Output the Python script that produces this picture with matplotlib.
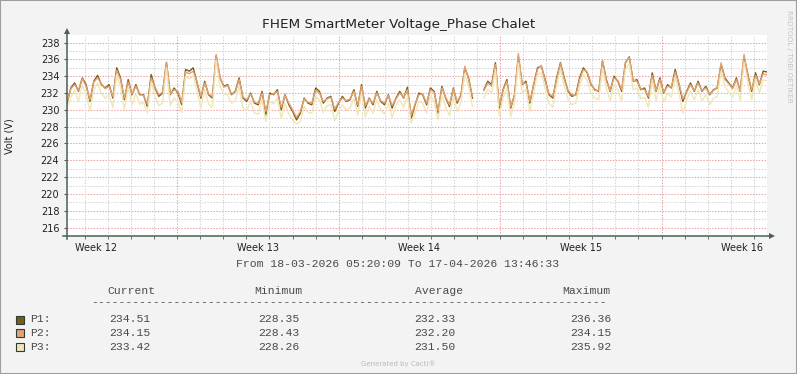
import numpy as np
import matplotlib
matplotlib.use('Agg')
import matplotlib.pyplot as plt
import matplotlib.dates as mdates
from matplotlib.lines import Line2D
from matplotlib.patches import Rectangle
from datetime import datetime, timedelta

W, H = 797, 374
START = datetime(2026, 3, 18, 5, 20, 9)
END   = datetime(2026, 4, 17, 13, 46, 33)

# ── Data (~4 h steps, NaN = gap) ──────────────────────────────────────
p1 = [230.8, 232.6, 233.2, 232.2, 233.8, 233.0, 231.0, 233.4, 234.1, 233.0, 232.6, 233.0, 231.4, 235.0, 233.8, 231.2,
      233.6, 231.8, 233.0, 231.8, 231.8, 230.4, 234.2, 232.6, 231.6, 232.0, 235.6, 231.8, 232.6, 232.0, 230.6, 234.8,
      234.6, 235.0, 233.2, 231.4, 233.4, 231.8,
      231.4, 236.4, 233.8, 232.8, 233.0, 231.8, 232.2, 233.8, 231.4, 231.0, 232.0, 230.8, 230.6, 232.2, 229.4, 232.0,
      231.8, 232.4, 230.0, 231.8, 230.6, 229.8, 228.8, 229.6, 231.4, 230.8, 230.6, 232.6, 232.2, 230.8, 231.4, 231.6,
      229.8, 230.8, 231.6, 231.0,
      231.2, 232.4, 230.4, 233.0, 230.2, 231.4, 230.6, 232.2, 231.0, 230.6, 231.8, 230.2, 231.4, 232.2, 231.4, 232.7,
      229.0, 230.6, 232.0, 231.8, 230.6, 232.6, 232.2, 229.6, 232.8, 231.4, 230.4, 232.6, 230.8, 231.8, 235.0, 233.8,
      231.4, np.nan, np.nan, 232.4, 233.4,
      233.0, 235.6, 230.2, 232.4, 233.6, 230.2, 231.8, 236.3, 233.0, 233.4, 230.8, 233.0, 235.0, 235.2, 233.6, 231.8,
      231.4, 233.8, 235.6, 233.8, 232.2, 231.6, 231.8, 233.8, 235.0, 234.4, 233.0, 232.4, 232.2, 235.8, 233.6, 232.2,
      234.0, 233.4, 232.2, 235.6,
      236.3, 233.4, 233.6, 232.4, 232.6, 231.4, 234.4, 232.2, 233.8, 232.0, 233.0, 232.6, 234.8, 233.0, 231.0, 232.2,
      233.2, 232.2, 233.4, 232.2, 232.8, 231.8, 232.4, 232.6, 235.4, 233.8, 233.2, 232.6, 233.8, 232.2, 236.3, 234.2,
      232.2, 234.4, 233.0, 234.6, 234.51]

p2 = [230.9, 232.5, 233.0, 232.3, 233.7, 232.8, 231.2, 233.3, 233.8, 233.1, 232.5, 232.8, 231.6, 234.7, 233.6, 231.4,
      233.3, 231.9, 232.8, 231.9, 231.7, 230.7, 233.8, 232.7, 231.8, 232.1, 235.7, 231.9, 232.4, 232.2, 230.9, 234.5,
      234.3, 234.6, 233.3, 231.6, 233.2, 231.9,
      231.6, 236.6, 233.9, 232.7, 232.9, 231.9, 232.1, 233.6, 231.5, 231.2, 231.9, 230.9, 230.8, 232.0, 229.8, 231.8,
      231.9, 232.2, 230.3, 231.7, 230.8, 230.0, 229.1, 229.8, 231.3, 230.9, 230.8, 232.3, 232.0, 231.0, 231.3, 231.5,
      230.1, 230.9, 231.4, 231.1,
      231.3, 232.2, 230.6, 232.8, 230.5, 231.3, 230.8, 232.0, 231.1, 230.8, 231.7, 230.5, 231.3, 232.0, 231.5, 232.4,
      229.4, 230.7, 231.8, 231.9, 230.8, 232.4, 232.1, 229.9, 232.6, 231.5, 230.6, 232.5, 231.0, 231.7, 235.2, 233.6,
      231.6, np.nan, np.nan, 232.3, 233.2,
      232.8, 235.4, 230.5, 232.3, 233.4, 230.4, 231.7, 236.7, 233.1, 233.2, 231.0, 232.9, 234.8, 235.3, 233.4, 231.9,
      231.6, 233.6, 235.5, 233.6, 232.3, 231.8, 231.7, 233.6, 234.8, 234.5, 233.1, 232.3, 232.3, 235.9, 233.4, 232.3,
      233.8, 233.5, 232.4, 235.7,
      236.2, 233.5, 233.4, 232.5, 232.4, 231.6, 234.1, 232.3, 233.6, 232.1, 232.8, 232.7, 234.5, 233.1, 231.3, 232.1,
      233.0, 232.3, 233.2, 232.3, 232.6, 231.9, 232.3, 232.7, 235.6, 233.6, 233.1, 232.5, 233.6, 232.3, 236.6, 234.0,
      232.4, 234.1, 233.1, 234.3, 234.15]

p3 = [230.2, 231.5, 232.4, 231.0, 232.9, 231.8, 229.9, 232.3, 233.2, 231.9, 231.4, 231.8, 230.3, 234.2, 232.7, 230.0,
      232.7, 230.6, 231.9, 230.7, 230.9, 229.6, 233.3, 231.6, 230.5, 230.8, 235.0, 230.5, 231.4, 230.9, 229.7, 234.0,
      233.7, 234.1, 232.2, 230.2, 232.4, 230.7,
      230.3, 235.9, 232.8, 231.9, 231.8, 230.8, 231.1, 232.8, 230.2, 229.9, 231.0, 229.6, 229.5, 231.2, 228.6, 231.0,
      230.7, 231.4, 229.0, 230.8, 229.5, 228.8, 228.3, 228.6, 230.4, 229.7, 229.6, 231.6, 231.2, 229.7, 230.5, 230.6,
      228.7, 229.8, 230.6, 230.0,
      230.2, 231.4, 229.4, 232.0, 229.2, 230.4, 229.6, 231.2, 230.0, 229.5, 230.8, 229.1, 230.5, 231.2, 230.3, 231.7,
      228.4, 229.6, 231.0, 230.8, 229.6, 231.6, 231.1, 228.8, 231.8, 230.4, 229.3, 231.6, 229.8, 230.9, 234.3, 232.8,
      230.4, np.nan, np.nan, 231.4, 232.4,
      232.0, 234.8, 229.3, 231.4, 232.6, 229.2, 230.8, 235.6, 232.0, 232.4, 229.8, 232.0, 234.2, 234.4, 232.6, 230.8,
      230.3, 232.8, 234.8, 232.8, 231.2, 230.6, 230.8, 232.8, 234.2, 233.5, 232.0, 231.4, 231.2, 235.0, 232.6, 231.1,
      233.0, 232.4, 231.0, 234.8,
      235.5, 232.4, 232.6, 231.3, 231.5, 230.3, 233.5, 231.1, 232.8, 230.9, 232.0, 231.5, 233.9, 232.0, 229.6, 231.2,
      232.2, 231.2, 232.4, 231.1, 231.8, 230.6, 231.4, 231.6, 234.6, 232.8, 232.1, 231.5, 232.8, 231.1, 235.7, 233.2,
      231.2, 233.6, 232.0, 233.6, 233.42]

series_names = ['P1', 'P2', 'P3']
series_colors = ['#7A5A16', '#E2A272', '#F1E6B6']
current = [234.51, 234.15, 233.42]
minimum = [228.35, 228.43, 228.26]
average = [232.33, 232.20, 231.50]
maximum = [236.36, 234.15, 235.92]
weeks = [12, 13, 14, 15, 16]

TITLE = 'FHEM SmartMeter Voltage_Phase Chalet'
YLABEL = 'Volt (V)'

# ── helpers: pixel -> figure fraction ─────────────────────────────────
def fx(px): return px / W
def fy(py): return 1 - py / H

AXC   = '#4A5F59'
RED   = '#EBA4A4'
GRAY  = '#D4D4D4'
TXT   = '#222222'
MTXT  = '#4A4A4A'
MONO  = 'Liberation Mono'
MSIZE = 8.2

fig = plt.figure(figsize=(W / 100, H / 100), dpi=100, facecolor='#F3F3F3')
fig.patches.append(Rectangle((0, 0), 1, 1, transform=fig.transFigure, fill=False,
                             edgecolor='#9E9E9E', lw=1.5))

ax = fig.add_axes([fx(67), fy(236), 700 / W, 201 / H])
ax.set_facecolor('white')
x0, x1 = mdates.date2num(START), mdates.date2num(END)
ax.set_xlim(x0, x1)
ax.set_ylim(215, 238.9)
for s in ax.spines.values():
    s.set_visible(False)

# ── Grid ──────────────────────────────────────────────────────────────
dot = (0, (1.4, 1.4))
for v in range(216, 239):
    ax.axhline(v, color=RED if v % 2 == 0 else GRAY, lw=0.75, ls=dot, zorder=1)
day = datetime(2026, 3, 19)
while day < END:
    ax.axvline(mdates.date2num(day), color=RED if day.weekday() == 0 else GRAY,
               lw=0.75, ls=dot, zorder=1)
    day += timedelta(days=1)

# ── Lines ─────────────────────────────────────────────────────────────
for vals, col in zip([p1, p2, p3], series_colors):
    xs = np.linspace(x0, x1, len(vals))
    ax.plot(xs, vals, color=col, lw=1.0, zorder=3)

# ── Ticks ─────────────────────────────────────────────────────────────
ax.set_yticks(range(216, 239, 2))
ax.tick_params(axis='y', length=2.5, width=0.8, color=AXC, pad=3,
               labelsize=7, labelcolor=TXT)
week_pos = [mdates.date2num(datetime.fromisocalendar(2026, w, 4) + timedelta(hours=12))
            for w in weeks]
ax.set_xticks(week_pos)
ax.set_xticklabels([f'Week {w}' for w in weeks])
ax.tick_params(axis='x', which='major', length=0, pad=5, labelsize=7, labelcolor=TXT)
ax.xaxis.set_minor_locator(mdates.DayLocator())
ax.tick_params(axis='x', which='minor', length=2, width=0.6, color=AXC)

# axis lines with arrows
fig.add_artist(Line2D([fx(67), fx(67)], [fy(239), fy(31)], color=AXC, lw=1.1))
fig.add_artist(Line2D([fx(63), fx(771)], [fy(236), fy(236)], color=AXC, lw=1.1))
fig.add_artist(Line2D([fx(67)], [fy(31)], marker='^', ms=4.5, color=AXC, mew=0))
fig.add_artist(Line2D([fx(772)], [fy(236)], marker='>', ms=4.5, color=AXC, mew=0))

# ── Texts ─────────────────────────────────────────────────────────────
fig.text(fx(398.5), fy(28), TITLE, ha='center', va='baseline', fontsize=9.7, color=TXT)
fig.text(fx(10), fy(136), YLABEL, ha='center', va='center', rotation=90, fontsize=7, color=TXT)
fig.text(fx(789), fy(56), 'RRDTOOL / TOBI OETIKER', ha='center', va='center', rotation=270,
         fontsize=5.2, color='#C4C4C4')
fig.text(fx(398), fy(264), f"From {START:%d-%m-%Y %H:%M:%S} To {END:%d-%m-%Y %H:%M:%S}",
         ha='center', va='center', family=MONO, fontsize=MSIZE, color=MTXT)

# ── Legend table ──────────────────────────────────────────────────────
headers = ['Current', 'Minimum', 'Average', 'Maximum']
head_x  = [131, 278.5, 439, 586.5]
col_right = [150, 299, 455, 611]
for h, hx in zip(headers, head_x):
    fig.text(fx(hx), fy(291), h, ha='center', va='center', family=MONO, fontsize=MSIZE, color=MTXT)
fig.text(fx(91), fy(302), '-' * 75, ha='left', va='center', family=MONO, fontsize=MSIZE, color=MTXT)

row_y = [319.5, 333, 347]
for i, name in enumerate(series_names):
    y = row_y[i]
    fig.patches.append(Rectangle((fx(15.5), fy(y + 4)), 8 / W, 8 / H, transform=fig.transFigure,
                                 facecolor=series_colors[i], edgecolor='#2E3B36', lw=0.8))
    fig.text(fx(30), fy(y), f'{name}:', ha='left', va='center', family=MONO, fontsize=MSIZE, color=MTXT)
    for vals, cx in zip([current, minimum, average, maximum], col_right):
        fig.text(fx(cx), fy(y), f'{vals[i]:.2f}', ha='right', va='center', family=MONO,
                 fontsize=MSIZE, color=MTXT)

fig.text(fx(398), fy(364), 'Generated by Cacti®', ha='center', va='center', fontsize=5, color='#BBBBBB')

plt.savefig('out.png', dpi=100, facecolor=fig.get_facecolor())
plt.close()
